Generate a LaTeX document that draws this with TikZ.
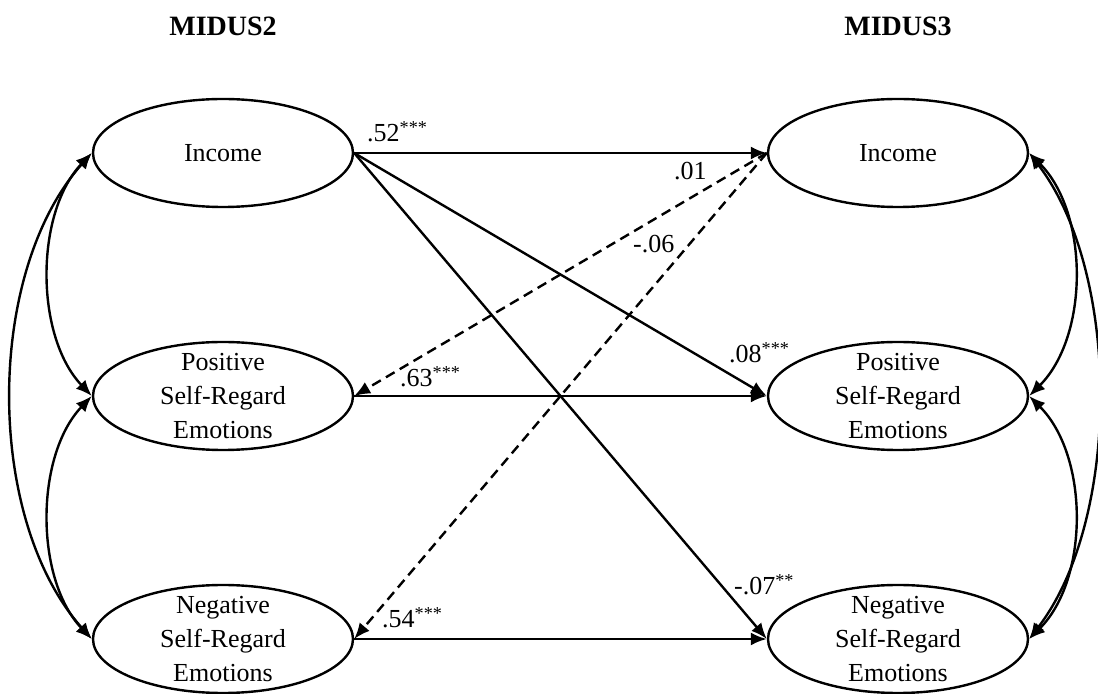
\documentclass[tikz,border=0pt]{standalone}
\usepackage{fontspec}
\setmainfont{Liberation Serif}
\usetikzlibrary{arrows.meta,shapes.geometric}

\begin{document}
\begin{tikzpicture}[x=0.5pt, y=-0.5pt, >={Latex[length=8pt,width=6.5pt]}, line width=1.2pt,
  latent/.style={draw, ellipse, minimum width=130pt, minimum height=54pt, inner sep=0pt},
  latenttext/.style={inner sep=0pt, align=center, font=\fontsize{13}{17}\selectfont},
  coef/.style={inner sep=0pt, anchor=base west, font=\fontsize{13}{15}\selectfont},
  wave/.style={inner sep=0pt, font=\fontsize{14}{16}\selectfont\bfseries}]
  \useasboundingbox (0,0) rectangle (1098,694);
  % waves
  \node[wave] (wave2) at (223,26) {MIDUS2};
  \node[wave] (wave3) at (898,26) {MIDUS3};
  % latent variables
  \node[latent] (inc2) at (223,153) {};
  \node[latent] (pos2) at (223,396) {};
  \node[latent] (neg2) at (223,639) {};
  \node[latent] (inc3) at (898,153) {};
  \node[latent] (pos3) at (898,396) {};
  \node[latent] (neg3) at (898,639) {};
  \node[latenttext] (inc2txt) at (inc2) {Income};
  \node[latenttext] (pos2txt) at (pos2) {Positive\\Self-Regard\\Emotions};
  \node[latenttext] (neg2txt) at (neg2) {Negative\\Self-Regard\\Emotions};
  \node[latenttext] (inc3txt) at (inc3) {Income};
  \node[latenttext] (pos3txt) at (pos3) {Positive\\Self-Regard\\Emotions};
  \node[latenttext] (neg3txt) at (neg3) {Negative\\Self-Regard\\Emotions};
  % paths
  \draw[->] (inc2.east) -- (inc3.west);
  \draw[->] (inc2.east) -- (pos3.west);
  \draw[->] (inc2.east) -- (neg3.west);
  \draw[->] (pos2.east) -- (pos3.west);
  \draw[->] (neg2.east) -- (neg3.west);
  \draw[->, dash pattern=on 5pt off 3pt] (inc3.west) -- (pos2.east);
  \draw[->, dash pattern=on 5pt off 3pt] (inc3.west) -- (neg2.east);
  % coefficients
  \node[coef] (c1) at (366,142) {.52\textsuperscript{***}};
  \node[coef] (c2) at (673,180) {.01};
  \node[coef] (c3) at (632,253) {-.06};
  \node[coef] (c4) at (728,363) {.08\textsuperscript{***}};
  \node[coef] (c5) at (399,387) {.63\textsuperscript{***}};
  \node[coef] (c6) at (733,595) {-.07\textsuperscript{**}};
  \node[coef] (c7) at (381,628) {.54\textsuperscript{***}};
  % covariances
  \draw[<->] (inc2.west) .. controls +(-57,60) and +(-57,-60) .. (pos2.west);
  \draw[<->] (pos2.west) .. controls +(-57,60) and +(-57,-60) .. (neg2.west);
  \draw[<->] (inc2.west) .. controls +(-107,120) and +(-107,-120) .. (neg2.west);
  \draw[<->] (inc3.east) .. controls +(60,60) and +(60,-60) .. (pos3.east);
  \draw[<->] (pos3.east) .. controls +(60,60) and +(60,-60) .. (neg3.east);
  \draw[<->] (inc3.east) .. controls +(92,120) and +(92,-120) .. (neg3.east);
\end{tikzpicture}
\end{document}
